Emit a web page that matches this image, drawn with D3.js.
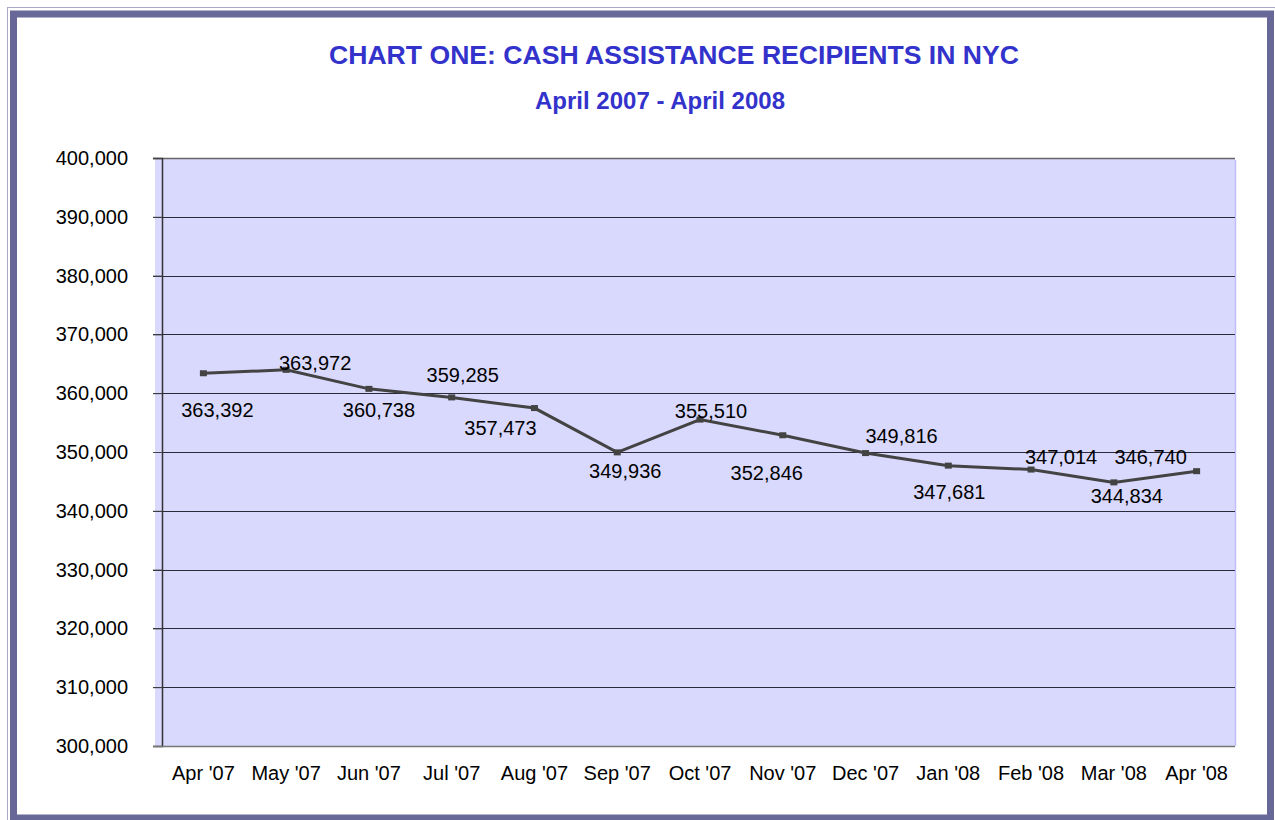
<!DOCTYPE html>
<html>
<head>
<meta charset="utf-8">
<script src="https://cdn.jsdelivr.net/npm/d3@7"></script>
<style>
  body { margin: 0; background: #fff; }
  text { font-family: "Liberation Sans", Arial, sans-serif; }
</style>
</head>
<body>
<div id="chart"></div>
<script>
// chart data
var months = ["Apr '07", "May '07", "Jun '07", "Jul '07", "Aug '07", "Sep '07", "Oct '07",
              "Nov '07", "Dec '07", "Jan '08", "Feb '08", "Mar '08", "Apr '08"];
var recipients = [363392, 363972, 360738, 359285, 357473, 349936, 355510,
                  352846, 349816, 347681, 347014, 344834, 346740];
var yTicks = [300000, 310000, 320000, 330000, 340000, 350000, 360000, 370000, 380000, 390000, 400000];

// where each value label sits relative to its point (hand placed like the original)
var labelDx = [14, 29, 10, 11, -34, 8, 11, -16, 36, 1, 30, 13, -46];
var labelDy = [37, -7, 21, -22, 20, 19, -9, 38, -17, 26, -13, 14, -14];

var width = 1275, height = 820;
var plotLeft = 162, plotRight = 1238, plotTop = 158, plotBottom = 746;

var svg = d3.select("#chart").append("svg")
    .attr("width", width)
    .attr("height", height);

// frame
svg.append("rect")
    .attr("x", 7.5).attr("y", 7.5)
    .attr("width", 1280).attr("height", 830)
    .attr("fill", "none").attr("stroke", "#a8a8cc").attr("stroke-width", 1);
svg.append("rect")
    .attr("x", 13.5).attr("y", 14)
    .attr("width", 1257).attr("height", 804)
    .attr("fill", "#fff").attr("stroke", "#686898").attr("stroke-width", 7);

// titles
svg.append("text")
    .attr("x", 674).attr("y", 64)
    .attr("text-anchor", "middle")
    .attr("font-size", 25).attr("font-weight", "bold")
    .attr("textLength", 690).attr("lengthAdjust", "spacingAndGlyphs")
    .attr("fill", "#3333cc")
    .text("CHART ONE: CASH ASSISTANCE RECIPIENTS IN NYC");
svg.append("text")
    .attr("x", 660).attr("y", 109)
    .attr("text-anchor", "middle")
    .attr("font-size", 23).attr("font-weight", "bold")
    .attr("textLength", 250).attr("lengthAdjust", "spacingAndGlyphs")
    .attr("fill", "#3333cc")
    .text("April 2007 - April 2008");

var x = d3.scaleBand().domain(months).range([plotLeft, plotRight]);
var y = d3.scaleLinear().domain([300000, 400000]).range([plotBottom, plotTop]);

// plot area
svg.append("rect")
    .attr("x", 155).attr("y", plotTop)
    .attr("width", 1235 - 155).attr("height", plotBottom - plotTop)
    .attr("fill", "#d9d9fd");
svg.append("line")
    .attr("x1", 1235.5).attr("x2", 1235.5)
    .attr("y1", plotTop + 2).attr("y2", plotBottom)
    .attr("stroke", "#c0c0ff").attr("stroke-width", 1.5);

// gridlines
svg.append("g").selectAll("line")
    .data(yTicks.slice(1, -1))
    .enter().append("line")
    .attr("x1", 153).attr("x2", 1235)
    .attr("y1", function (d) { return Math.round(y(d)) + 0.5; })
    .attr("y2", function (d) { return Math.round(y(d)) + 0.5; })
    .attr("stroke", "#2a2a3a").attr("stroke-width", 1);
svg.append("line")
    .attr("x1", 153).attr("x2", 1235)
    .attr("y1", plotTop + 0.5).attr("y2", plotTop + 0.5)
    .attr("stroke", "#666").attr("stroke-width", 1.5);

// y axis
var yAxis = svg.append("g")
    .attr("transform", "translate(" + plotLeft + ",0)")
    .call(d3.axisLeft(y).tickValues(yTicks).tickSize(9).tickPadding(25)
        .tickFormat(d3.format(",")));
yAxis.select(".domain").attr("stroke", "#333").attr("stroke-width", 1.5);
yAxis.selectAll(".tick line").attr("stroke", "#444");
yAxis.selectAll("text").attr("font-size", 20).attr("fill", "#000")
    .style("font-family", "'Liberation Sans', Arial, sans-serif");

// x axis
var xAxis = svg.append("g")
    .attr("transform", "translate(0," + plotBottom + ")")
    .call(d3.axisBottom(x).tickSize(0).tickPadding(20));
xAxis.select(".domain").attr("d", "M153,0.5H1235").attr("stroke", "#777").attr("stroke-width", 1.5);
xAxis.selectAll("text").attr("font-size", 20).attr("fill", "#000")
    .style("font-family", "'Liberation Sans', Arial, sans-serif");

// line
var line = d3.line()
    .x(function (d, i) { return x(months[i]) + x.bandwidth() / 2; })
    .y(function (d) { return y(d); });

svg.append("path")
    .datum(recipients)
    .attr("d", line)
    .attr("fill", "none")
    .attr("stroke", "#434343")
    .attr("stroke-width", 3);

svg.append("g").selectAll("rect")
    .data(recipients)
    .enter().append("rect")
    .attr("x", function (d, i) { return x(months[i]) + x.bandwidth() / 2 - 3.5; })
    .attr("y", function (d) { return y(d) - 3; })
    .attr("width", 7).attr("height", 6)
    .attr("fill", "#434343");

// value labels
svg.append("g").selectAll("text")
    .data(recipients)
    .enter().append("text")
    .attr("x", function (d, i) { return x(months[i]) + x.bandwidth() / 2 + labelDx[i]; })
    .attr("y", function (d, i) { return y(d) + labelDy[i]; })
    .attr("dy", "0.35em")
    .attr("text-anchor", "middle")
    .attr("font-size", 20)
    .attr("fill", "#000")
    .text(function (d) { return d3.format(",")(d); });
</script>
</body>
</html>
